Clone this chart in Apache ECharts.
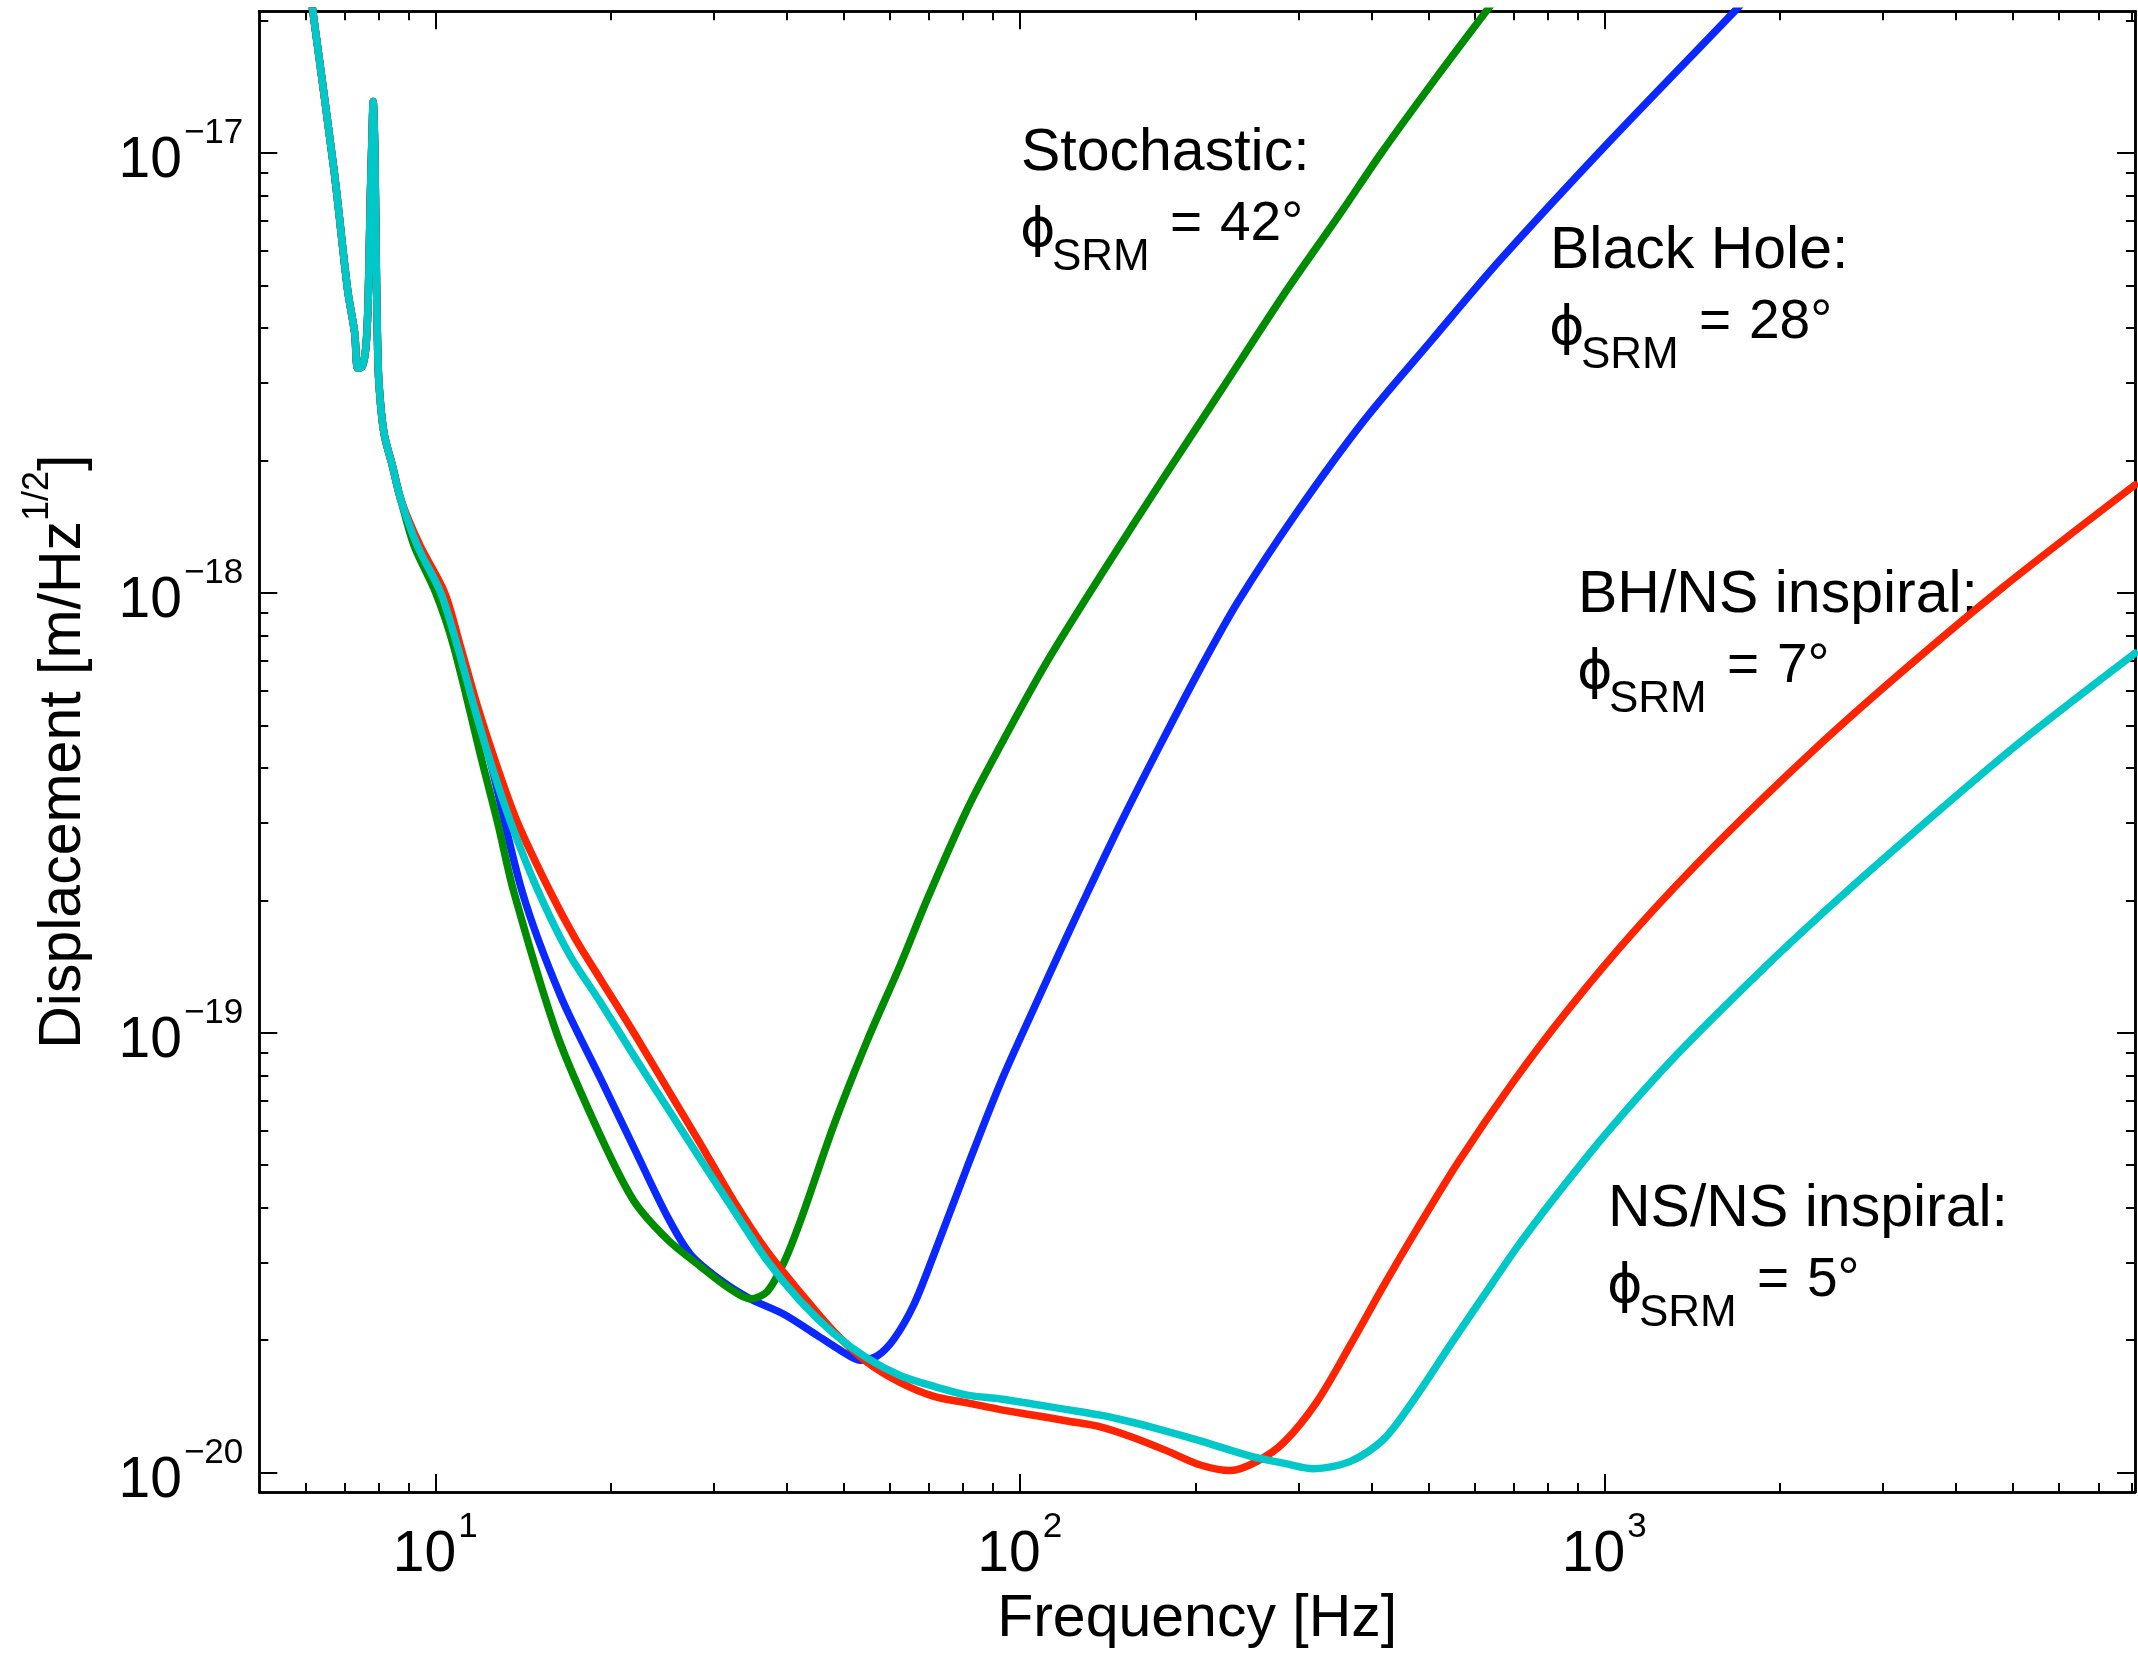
<!DOCTYPE html>
<html>
<head>
<meta charset="utf-8">
<script src="https://cdn.jsdelivr.net/npm/echarts@6/dist/echarts.min.js"></script>
<style>
  html, body { margin: 0; padding: 0; background: #fff; }
  #chart { width: 2138px; height: 1654px; }
</style>
</head>
<body>
<div id="chart"></div>
<script>
// Quantum-noise displacement spectra, [frequency Hz, displacement m/Hz^1/2]

// Low-frequency part shared by every signal-recycling tuning
const lowBand = [
  [5.93, 3.16e-17], [6.18, 2.08e-17], [6.71, 9.16e-18], [7.08, 4.89e-18],
  [7.28, 3.90e-18], [7.37, 3.24e-18], [7.50, 3.27e-18], [7.61, 3.63e-18],
  [7.68, 4.68e-18], [7.74, 7.76e-18], [7.80, 1.12e-17], [7.83, 1.31e-17],
  [7.88, 1.02e-17], [7.92, 6.03e-18], [7.96, 3.90e-18], [8.01, 3.00e-18],
  [8.17, 2.31e-18], [8.45, 1.94e-18], [8.73, 1.63e-18]
];

// Stochastic background, phi_SRM = 42 deg
const stochastic = [
  [9.20, 1.28e-18], [10.02, 1.00e-18], [10.75, 7.57e-19], [12.04, 4.11e-19],
  [12.78, 3.01e-19], [13.64, 2.08e-19], [16.18, 9.86e-20], [19.19, 5.81e-20],
  [21.88, 4.14e-20], [24.95, 3.39e-20], [28.44, 2.94e-20], [31.61, 2.64e-20],
  [34.63, 2.48e-20], [36.98, 2.58e-20], [39.48, 3.00e-20], [42.17, 3.74e-20],
  [48.09, 6.17e-20], [54.83, 9.59e-20], [62.52, 1.43e-19], [69.44, 2.01e-19],
  [80.0, 3.08e-19], [87.5, 3.90e-19], [110, 6.79e-19], [139, 1.12e-18],
  [175, 1.80e-18], [220, 2.86e-18], [286.6, 4.89e-18], [353.5, 7.29e-18],
  [415.5, 1.00e-17], [515, 1.48e-17], [628, 2.10e-17], [745, 2.83e-17]
];

// Black hole, phi_SRM = 28 deg
const blackHole = [
  [9.32, 1.28e-18], [10.22, 1.00e-18], [10.91, 7.57e-19], [11.65, 5.52e-19],
  [12.44, 4.11e-19], [14.10, 2.08e-19], [16.39, 1.21e-19], [19.19, 7.85e-20],
  [21.88, 5.47e-20], [24.95, 3.82e-20], [27.35, 3.13e-20], [30.97, 2.72e-20],
  [34.63, 2.48e-20], [39.48, 2.29e-20], [45.02, 2.05e-20], [49.52, 1.89e-20],
  [53.3, 1.80e-20], [57.0, 1.84e-20], [60.9, 2.01e-20], [65.9, 2.41e-20],
  [71.29, 3.13e-20], [81.3, 4.95e-20], [92.7, 7.69e-20], [105.7, 1.135e-19],
  [120.5, 1.66e-19], [130.4, 2.075e-19], [149.1, 3.01e-19], [173.3, 4.47e-19],
  [205, 6.84e-19], [236.6, 9.58e-19], [296.4, 1.51e-18], [387.7, 2.46e-18],
  [507.2, 3.76e-18], [663.2, 5.71e-18], [1019, 1.06e-17], [1670, 2.10e-17],
  [2048, 2.80e-17]
];

// BH/NS inspiral, phi_SRM = 7 deg
const bhnsInspiral = [
  [9.42, 1.28e-18], [10.38, 1.00e-18], [11.04, 7.57e-19], [11.81, 5.52e-19],
  [12.69, 4.11e-19], [13.82, 3.01e-19], [15.76, 2.08e-19], [17.39, 1.63e-19],
  [19.19, 1.32e-19], [21.88, 9.98e-20], [24.95, 7.46e-20], [28.44, 5.58e-20],
  [32.43, 4.14e-20], [36.98, 3.18e-20], [42.17, 2.56e-20], [48.09, 2.09e-20],
  [54.83, 1.78e-20], [62.52, 1.60e-20], [71.29, 1.49e-20], [81.3, 1.44e-20],
  [92.7, 1.39e-20], [105.7, 1.35e-20], [120.5, 1.31e-20], [137.4, 1.27e-20],
  [156.7, 1.20e-20], [178.6, 1.12e-20], [203.7, 1.04e-20], [229.2, 1.01e-20],
  [254.6, 1.06e-20], [282.8, 1.17e-20], [322.5, 1.45e-20], [367.8, 1.95e-20],
  [419.4, 2.66e-20], [478.3, 3.58e-20], [561.9, 5.07e-20], [696.6, 7.69e-20],
  [863.3, 1.12e-19], [1129, 1.71e-19], [1558, 2.69e-19], [2269, 4.36e-19],
  [3206, 6.56e-19], [4810, 1.03e-18], [8090, 1.76e-18]
];

// NS/NS inspiral, phi_SRM = 5 deg
const nsnsInspiral = [
  [9.32, 1.28e-18], [10.22, 1.00e-18], [10.91, 7.57e-19], [11.65, 5.52e-19],
  [12.44, 4.11e-19], [13.46, 3.01e-19], [14.95, 2.12e-19], [16.94, 1.51e-19],
  [19.19, 1.17e-19], [21.88, 8.85e-20], [24.95, 6.75e-20], [28.44, 5.15e-20],
  [32.43, 3.94e-20], [36.98, 3.03e-20], [42.17, 2.45e-20], [48.09, 2.07e-20],
  [54.83, 1.82e-20], [62.52, 1.66e-20], [71.29, 1.57e-20], [81.3, 1.50e-20],
  [92.7, 1.47e-20], [105.7, 1.43e-20], [120.5, 1.39e-20], [137.4, 1.35e-20],
  [148.7, 1.32e-20], [167.3, 1.27e-20], [203.7, 1.18e-20], [248.1, 1.09e-20],
  [282.8, 1.05e-20], [318.3, 1.02e-20], [367.8, 1.06e-20], [419.4, 1.19e-20],
  [478.3, 1.50e-20], [545.2, 1.95e-20], [621.6, 2.52e-20], [708.8, 3.25e-20],
  [818.7, 4.19e-20], [1015, 5.97e-20], [1327, 8.88e-20], [1831, 1.36e-19],
  [2395, 1.90e-19], [3206, 2.68e-19], [5078, 4.51e-19], [8090, 7.29e-19]
];

// Axis ranges and tick marks
const freqRange = [5, 8090];
const dispRange = [9.03e-21, 2.1e-17];
const freqMajor = [10, 100, 1000];
const freqMinor = [6, 7, 8, 9, 20, 30, 40, 50, 60, 70, 80, 90,
  200, 300, 400, 500, 600, 700, 800, 900, 2000, 3000, 4000, 5000, 6000, 7000, 8000];
const dispMajor = [1e-20, 1e-19, 1e-18, 1e-17];
const dispMinor = [2e-20, 3e-20, 4e-20, 5e-20, 6e-20, 7e-20, 8e-20, 9e-20,
  2e-19, 3e-19, 4e-19, 5e-19, 6e-19, 7e-19, 8e-19, 9e-19,
  2e-18, 3e-18, 4e-18, 5e-18, 6e-18, 7e-18, 8e-18, 9e-18, 2e-17];

const FONT = '"Liberation Sans", Arial, Helvetica, sans-serif';
const lg = Math.log10;
const toLog = pts => pts.map(p => [lg(p[0]), lg(p[1])]);

const powRich = {
  b: { fontSize: 57, fontFamily: FONT, color: '#000', padding: [17, 0, 0, 0], verticalAlign: 'bottom' },
  s: { fontSize: 35, fontFamily: FONT, color: '#000', verticalAlign: 'top', padding: [0, 0, 0, 2] }
};

function axisCfg(dim, position, ticks, len, withLabels) {
  const range = dim === 'x' ? freqRange : dispRange;
  const cfg = {
    type: 'value',
    position: position,
    min: lg(range[0]),
    max: lg(range[1]),
    axisLine: { show: true, onZero: false, lineStyle: { color: '#000', width: 2.5 } },
    axisTick: {
      show: true, inside: true, length: len,
      customValues: ticks.map(lg),
      lineStyle: { color: '#000', width: 2 }
    },
    axisLabel: { show: false },
    splitLine: { show: false }
  };
  if (withLabels) {
    cfg.axisLabel = {
      show: true,
      customValues: ticks.map(lg),
      margin: dim === 'x' ? 18 : 16,
      formatter: dim === 'x'
        ? v => '{b|10}{s|' + Math.round(v) + '}'
        : v => '{b|10}{s|\u2212' + Math.abs(Math.round(v)) + '}',
      rich: powRich
    };
  }
  return cfg;
}

const xAxes = [
  axisCfg('x', 'bottom', freqMajor, 18, true),
  axisCfg('x', 'bottom', freqMinor, 9, false),
  axisCfg('x', 'top', freqMajor, 18, false),
  axisCfg('x', 'top', freqMinor, 9, false)
];
xAxes[0].name = 'Frequency [Hz]';
xAxes[0].nameLocation = 'middle';
xAxes[0].nameGap = 98;
xAxes[0].nameTextStyle = { fontSize: 59, fontFamily: FONT, color: '#000' };

const yAxes = [
  axisCfg('y', 'left', dispMajor, 18, true),
  axisCfg('y', 'left', dispMinor, 9, false),
  axisCfg('y', 'right', dispMajor, 18, false),
  axisCfg('y', 'right', dispMinor, 9, false)
];
yAxes[0].name = '{t|Displacement [m/Hz}{s|1/2}{t|]}';
yAxes[0].nameLocation = 'middle';
yAxes[0].nameRotate = 90;
yAxes[0].nameGap = 166;
yAxes[0].nameTextStyle = {
  rich: {
    t: { fontSize: 59, fontFamily: FONT, color: '#000', padding: [14, 0, 0, 0], verticalAlign: 'bottom' },
    s: { fontSize: 36, fontFamily: FONT, color: '#000', verticalAlign: 'top' }
  }
};

function curve(name, color, pts) {
  return {
    name: name, type: 'line', xAxisIndex: 0, yAxisIndex: 0,
    data: toLog(pts), showSymbol: false, symbol: 'none',
    smooth: 0.3, clip: true,
    lineStyle: { color: color, width: 7.5, cap: 'round', join: 'round' },
    emphasis: { disabled: true }, animation: false
  };
}

// Annotation text blocks: title line and phi_SRM line
const notes = [
  { title: 'Stochastic:', angle: '42\u00b0', left: 1021, mid: 154 },
  { title: 'Black Hole:', angle: '28\u00b0', left: 1550, mid: 252 },
  { title: 'BH/NS inspiral:', angle: '7\u00b0', left: 1578, mid: 596 },
  { title: 'NS/NS inspiral:', angle: '5\u00b0', left: 1608, mid: 1210 }
];

function txt(x, y, s, size, family) {
  return {
    type: 'text', x: x, y: y, silent: true,
    style: { text: s, fontSize: size, fontFamily: family || FONT, fill: '#000', align: 'left', verticalAlign: 'middle' }
  };
}

const graphics = [];
notes.forEach(n => {
  graphics.push(txt(n.left, n.mid, n.title, 59));
  graphics.push(txt(n.left - 1, n.mid + 78, '\u03d5', 54, '"DejaVu Sans", ' + FONT));
  graphics.push(txt(n.left + 31, n.mid + 104, 'SRM', 44));
  graphics.push(txt(n.left + 149, n.mid + 71, '=', 55));
  graphics.push(txt(n.left + 199, n.mid + 71, n.angle, 55));
});

const chart = echarts.init(document.getElementById('chart'), null, { renderer: 'canvas' });
chart.setOption({
  animation: false,
  backgroundColor: '#fff',
  grid: { left: 259.3, right: 3, top: 11.3, bottom: 160.7, containLabel: false },
  xAxis: xAxes,
  yAxis: yAxes,
  series: [
    curve('Black Hole', '#0a28ff', lowBand.concat(blackHole)),
    curve('Stochastic', '#008c00', lowBand.concat(stochastic)),
    curve('BH/NS inspiral', '#ff2400', lowBand.concat(bhnsInspiral)),
    curve('NS/NS inspiral', '#00c8c8', lowBand.concat(nsnsInspiral))
  ],
  graphic: graphics
});
</script>
</body>
</html>
